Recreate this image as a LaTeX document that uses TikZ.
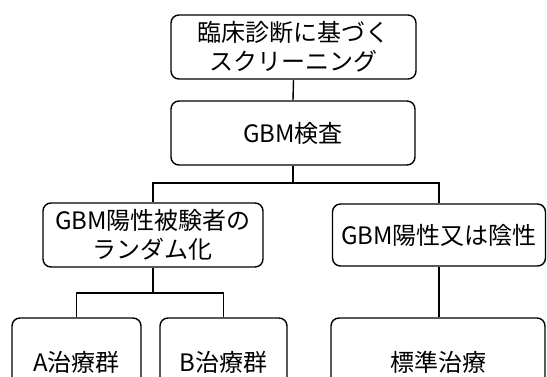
\documentclass[tikz,border=0pt]{standalone}
\usepackage{fontspec}
\setmainfont{Noto Sans CJK JP}
\begin{document}
\begin{tikzpicture}[x=1pt,y=-1pt,
  box/.style={draw, line width=1.4pt, rounded corners=8pt, align=center,
    inner sep=0pt, font=\fontsize{24}{29}\selectfont},
  conn/.style={line width=1.4pt}]
\useasboundingbox (0,0) rectangle (547,376);
\clip (0,0) rectangle (547,376);
\node[box, minimum width=245, minimum height=64] (b1) at (293.5,47) {臨床診断に基づく\\スクリーニング};
\node[box, minimum width=244, minimum height=64] (b2) at (293,133) {GBM検査};
\node[box, minimum width=220, minimum height=64] (b3) at (153,235) {GBM陽性被験者の\\ランダム化};
\node[box, minimum width=213, minimum height=62] (b4) at (439,235) {GBM陽性又は陰性};
\node[box, minimum width=129, minimum height=88] (bA) at (76.5,362) {A治療群};
\node[box, minimum width=127, minimum height=88] (bB) at (223.5,362) {B治療群};
\node[box, minimum width=214, minimum height=88] (bS) at (438,362) {標準治療};
\coordinate (j1) at (293,183);
\coordinate (j2) at (153,293);
\draw[conn] (b1.south) -- (b2.north);
\draw[conn] (b2.south) -- (j1);
\draw[conn] (b3.north) |- (j1) -| (b4.north);
\draw[conn] (b3.south) -- (j2);
\draw[conn] (bA.north) |- (j2) -| (bB.north);
\draw[conn] (b4.south) -- (b4.south |- bS.north);
\end{tikzpicture}
\end{document}
